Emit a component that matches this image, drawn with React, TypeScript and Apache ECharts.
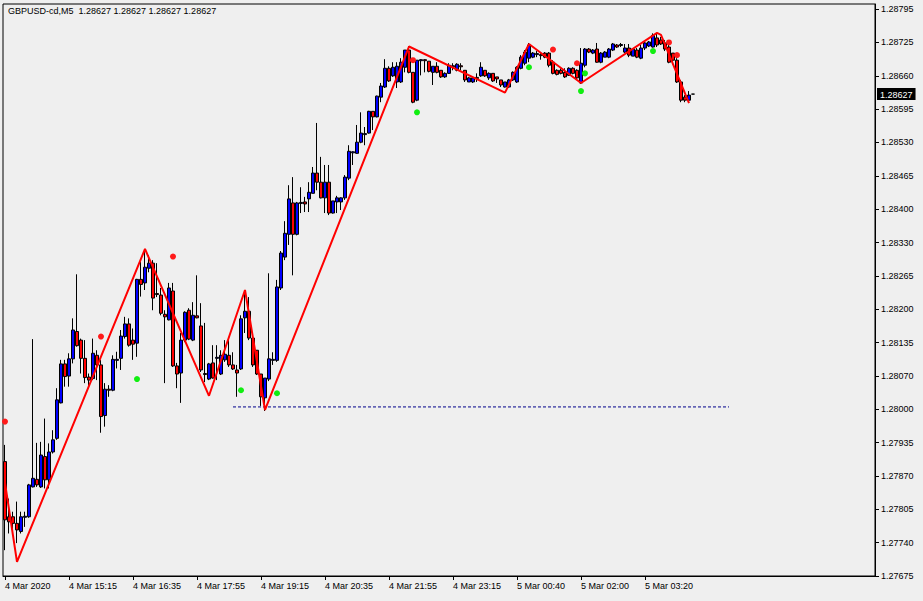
import React, { useEffect, useRef } from "react";
import * as echarts from "echarts";

const SYMBOL = "GBPUSD-cd";
const PERIOD = "M5";

// [open, close, low, high]
const CANDLES: number[][] = [
  [1.27901, 1.27786, 1.27726, 1.27934],
  [1.27792, 1.27782, 1.27759, 1.27828],
  [1.27792, 1.27779, 1.27759, 1.27802],
  [1.27779, 1.27766, 1.27740, 1.27822],
  [1.27763, 1.27792, 1.27759, 1.27802],
  [1.27791, 1.27793, 1.27772, 1.27802],
  [1.27792, 1.27855, 1.27790, 1.27857],
  [1.27851, 1.27868, 1.27850, 1.28143],
  [1.27866, 1.27855, 1.27851, 1.27938],
  [1.27851, 1.27914, 1.27849, 1.27940],
  [1.27911, 1.27865, 1.27848, 1.27986],
  [1.27865, 1.27920, 1.27848, 1.27937],
  [1.27920, 1.27944, 1.27917, 1.27963],
  [1.27947, 1.28023, 1.27944, 1.28046],
  [1.28017, 1.28094, 1.28016, 1.28102],
  [1.28094, 1.28069, 1.28049, 1.28102],
  [1.28070, 1.28104, 1.28049, 1.28115],
  [1.28104, 1.28161, 1.28095, 1.28184],
  [1.28158, 1.28130, 1.28128, 1.28271],
  [1.28141, 1.28105, 1.28075, 1.28144],
  [1.28105, 1.28067, 1.28056, 1.28141],
  [1.28068, 1.28062, 1.28046, 1.28075],
  [1.28065, 1.28115, 1.28062, 1.28144],
  [1.28111, 1.28092, 1.28062, 1.28121],
  [1.28092, 1.27990, 1.27958, 1.28102],
  [1.27992, 1.28044, 1.27970, 1.28056],
  [1.28044, 1.28042, 1.28029, 1.28052],
  [1.28042, 1.28103, 1.28040, 1.28111],
  [1.28101, 1.28103, 1.28085, 1.28118],
  [1.28105, 1.28149, 1.28082, 1.28161],
  [1.28148, 1.28173, 1.28144, 1.28187],
  [1.28173, 1.28131, 1.28128, 1.28184],
  [1.28141, 1.28133, 1.28102, 1.28164],
  [1.28135, 1.28261, 1.28108, 1.28262],
  [1.28261, 1.28251, 1.28227, 1.28296],
  [1.28254, 1.28285, 1.28240, 1.28319],
  [1.28283, 1.28293, 1.28275, 1.28309],
  [1.28293, 1.28224, 1.28200, 1.28299],
  [1.28233, 1.28231, 1.28226, 1.28293],
  [1.28230, 1.28194, 1.28190, 1.28244],
  [1.28192, 1.28187, 1.28056, 1.28200],
  [1.28181, 1.28244, 1.28180, 1.28254],
  [1.28238, 1.28090, 1.28088, 1.28254],
  [1.28090, 1.28074, 1.28046, 1.28096],
  [1.28076, 1.28141, 1.28017, 1.28155],
  [1.28141, 1.28196, 1.28137, 1.28198],
  [1.28200, 1.28143, 1.28141, 1.28204],
  [1.28141, 1.28190, 1.28139, 1.28216],
  [1.28189, 1.28185, 1.28184, 1.28269],
  [1.28169, 1.28082, 1.28078, 1.28214],
  [1.28075, 1.28073, 1.28058, 1.28175],
  [1.28064, 1.28094, 1.28062, 1.28096],
  [1.28096, 1.28066, 1.28065, 1.28131],
  [1.28105, 1.28107, 1.28062, 1.28131],
  [1.28074, 1.28111, 1.28072, 1.28121],
  [1.28102, 1.28113, 1.28098, 1.28141],
  [1.28111, 1.28092, 1.28088, 1.28145],
  [1.28092, 1.28084, 1.28082, 1.28117],
  [1.28082, 1.28076, 1.28029, 1.28092],
  [1.28084, 1.28183, 1.28082, 1.28190],
  [1.28185, 1.28198, 1.28155, 1.28234],
  [1.28198, 1.28145, 1.28141, 1.28226],
  [1.28145, 1.28092, 1.28088, 1.28147],
  [1.28121, 1.28074, 1.28072, 1.28121],
  [1.28074, 1.28029, 1.28011, 1.28074],
  [1.28027, 1.28066, 1.28001, 1.28066],
  [1.28064, 1.28104, 1.28060, 1.28273],
  [1.28101, 1.28103, 1.28092, 1.28117],
  [1.28101, 1.28246, 1.28098, 1.28260],
  [1.28244, 1.28313, 1.28240, 1.28317],
  [1.28305, 1.28352, 1.28299, 1.28376],
  [1.28350, 1.28420, 1.28329, 1.28447],
  [1.28412, 1.28350, 1.28269, 1.28463],
  [1.28350, 1.28412, 1.28348, 1.28414],
  [1.28411, 1.28413, 1.28392, 1.28443],
  [1.28414, 1.28410, 1.28394, 1.28424],
  [1.28420, 1.28433, 1.28394, 1.28453],
  [1.28431, 1.28471, 1.28431, 1.28483],
  [1.28471, 1.28453, 1.28437, 1.28570],
  [1.28453, 1.28422, 1.28421, 1.28503],
  [1.28422, 1.28453, 1.28392, 1.28487],
  [1.28453, 1.28392, 1.28388, 1.28487],
  [1.28392, 1.28416, 1.28391, 1.28416],
  [1.28414, 1.28422, 1.28392, 1.28426],
  [1.28414, 1.28422, 1.28398, 1.28423],
  [1.28422, 1.28463, 1.28418, 1.28467],
  [1.28461, 1.28514, 1.28457, 1.28526],
  [1.28511, 1.28513, 1.28487, 1.28514],
  [1.28510, 1.28532, 1.28509, 1.28566],
  [1.28532, 1.28550, 1.28530, 1.28591],
  [1.28547, 1.28549, 1.28526, 1.28562],
  [1.28550, 1.28593, 1.28549, 1.28594],
  [1.28593, 1.28582, 1.28556, 1.28593],
  [1.28582, 1.28623, 1.28581, 1.28624],
  [1.28621, 1.28643, 1.28611, 1.28649],
  [1.28641, 1.28678, 1.28639, 1.28696],
  [1.28678, 1.28653, 1.28651, 1.28682],
  [1.28663, 1.28680, 1.28661, 1.28690],
  [1.28651, 1.28682, 1.28639, 1.28690],
  [1.28651, 1.28690, 1.28649, 1.28698],
  [1.28680, 1.28714, 1.28670, 1.28714],
  [1.28714, 1.28670, 1.28668, 1.28722],
  [1.28670, 1.28611, 1.28609, 1.28670],
  [1.28615, 1.28694, 1.28613, 1.28694],
  [1.28693, 1.28695, 1.28664, 1.28696],
  [1.28695, 1.28693, 1.28670, 1.28696],
  [1.28692, 1.28672, 1.28670, 1.28692],
  [1.28670, 1.28682, 1.28645, 1.28682],
  [1.28682, 1.28670, 1.28668, 1.28690],
  [1.28674, 1.28661, 1.28659, 1.28674],
  [1.28661, 1.28668, 1.28659, 1.28670],
  [1.28668, 1.28684, 1.28667, 1.28688],
  [1.28681, 1.28683, 1.28674, 1.28688],
  [1.28674, 1.28686, 1.28672, 1.28688],
  [1.28683, 1.28681, 1.28674, 1.28688],
  [1.28674, 1.28655, 1.28651, 1.28674],
  [1.28651, 1.28659, 1.28651, 1.28661],
  [1.28651, 1.28659, 1.28649, 1.28659],
  [1.28660, 1.28658, 1.28651, 1.28668],
  [1.28663, 1.28680, 1.28661, 1.28690],
  [1.28674, 1.28663, 1.28661, 1.28674],
  [1.28659, 1.28668, 1.28655, 1.28670],
  [1.28668, 1.28653, 1.28651, 1.28668],
  [1.28661, 1.28657, 1.28649, 1.28661],
  [1.28655, 1.28645, 1.28641, 1.28655],
  [1.28641, 1.28651, 1.28640, 1.28651],
  [1.28641, 1.28655, 1.28639, 1.28657],
  [1.28655, 1.28670, 1.28653, 1.28672],
  [1.28651, 1.28680, 1.28649, 1.28682],
  [1.28678, 1.28700, 1.28676, 1.28704],
  [1.28688, 1.28710, 1.28684, 1.28714],
  [1.28698, 1.28724, 1.28690, 1.28728],
  [1.28700, 1.28708, 1.28698, 1.28710],
  [1.28705, 1.28707, 1.28700, 1.28712],
  [1.28705, 1.28703, 1.28695, 1.28708],
  [1.28708, 1.28700, 1.28698, 1.28710],
  [1.28708, 1.28684, 1.28680, 1.28710],
  [1.28690, 1.28668, 1.28666, 1.28694],
  [1.28674, 1.28666, 1.28664, 1.28676],
  [1.28674, 1.28668, 1.28666, 1.28678],
  [1.28670, 1.28661, 1.28659, 1.28678],
  [1.28664, 1.28678, 1.28663, 1.28680],
  [1.28678, 1.28668, 1.28666, 1.28680],
  [1.28674, 1.28659, 1.28657, 1.28676],
  [1.28649, 1.28688, 1.28647, 1.28718],
  [1.28684, 1.28716, 1.28680, 1.28718],
  [1.28716, 1.28710, 1.28708, 1.28718],
  [1.28708, 1.28714, 1.28706, 1.28716],
  [1.28716, 1.28690, 1.28689, 1.28728],
  [1.28690, 1.28708, 1.28688, 1.28710],
  [1.28700, 1.28710, 1.28700, 1.28712],
  [1.28700, 1.28716, 1.28698, 1.28718],
  [1.28714, 1.28726, 1.28712, 1.28728],
  [1.28724, 1.28720, 1.28718, 1.28726],
  [1.28723, 1.28725, 1.28720, 1.28728],
  [1.28710, 1.28718, 1.28708, 1.28726],
  [1.28718, 1.28704, 1.28700, 1.28726],
  [1.28702, 1.28716, 1.28702, 1.28716],
  [1.28714, 1.28700, 1.28698, 1.28718],
  [1.28698, 1.28718, 1.28696, 1.28724],
  [1.28718, 1.28728, 1.28714, 1.28730],
  [1.28722, 1.28730, 1.28720, 1.28732],
  [1.28720, 1.28743, 1.28719, 1.28747],
  [1.28738, 1.28724, 1.28720, 1.28747],
  [1.28734, 1.28726, 1.28724, 1.28740],
  [1.28728, 1.28716, 1.28712, 1.28734],
  [1.28720, 1.28690, 1.28688, 1.28724],
  [1.28708, 1.28694, 1.28686, 1.28708],
  [1.28694, 1.28651, 1.28649, 1.28698],
  [1.28651, 1.28615, 1.28611, 1.28655],
  [1.28621, 1.28615, 1.28611, 1.28625],
  [1.28615, 1.28625, 1.28615, 1.28633],
  [1.28627, 1.28627, 1.28627, 1.28627],
];

// ZigZag vertices: [bar index, price]
const ZIGZAG: number[][] = [
  [0, 1.27859], [3, 1.27703], [35, 1.28321], [51, 1.28031], [60, 1.2824],
  [65, 1.28003], [101, 1.28721], [125, 1.2863], [131, 1.28726], [144, 1.28649],
  [163, 1.28748], [164, 1.28744], [171, 1.28609],
];

const RED_DOTS: number[][] = [
  [0, 1.2798], [24, 1.28148], [42, 1.28306], [102, 1.28694],
  [137, 1.28715], [143, 1.28688], [166, 1.28729], [168, 1.28704],
];

const GREEN_DOTS: number[][] = [
  [33, 1.28064], [59, 1.28042], [68, 1.28036], [103, 1.28591],
  [131, 1.2868], [144, 1.28633], [145, 1.28668], [162, 1.28712],
];

const LEVEL_LINE: number[][] = [
  [57, 1.28009], [181, 1.28009],
];

const TOTAL_SLOTS = 218;
const X_LABEL_EVERY = 16;
const X_LABELS = [
  "4 Mar 2020", "4 Mar 15:15", "4 Mar 16:35", "4 Mar 17:55", "4 Mar 19:15",
  "4 Mar 20:35", "4 Mar 21:55", "4 Mar 23:15", "5 Mar 00:40", "5 Mar 02:00",
  "5 Mar 03:20",
];

const Y_MIN = 1.27675;
const Y_MAX = 1.28805;
const Y_LABELS = [
  "1.27675", "1.27740", "1.27805", "1.27870", "1.27935", "1.28000",
  "1.28070", "1.28135", "1.28200", "1.28265", "1.28330", "1.28400",
  "1.28465", "1.28530", "1.28595", "1.28660", "1.28725", "1.28795",
];
const Y_STEP = (1.28795 - Y_MIN) / (Y_LABELS.length - 1);

const FONT = "'Liberation Sans', Arial, sans-serif";

export default function App() {
  const ref = useRef<HTMLDivElement>(null);

  useEffect(() => {
    if (!ref.current) return;
    const chart = echarts.init(ref.current, undefined, { renderer: "svg" });
    const last = CANDLES[CANDLES.length - 1];
    const fmt = (v: number) => v.toFixed(5);
    const title = `${SYMBOL},${PERIOD}\u00a0\u00a0${fmt(last[0])} ${fmt(last[3])} ${fmt(last[2])} ${fmt(last[1])}`;
    const cats = Array.from({ length: TOTAL_SLOTS }, (_, i) => String(i));
    const showIdx = (idx: number) =>
      idx % X_LABEL_EVERY === 0 && idx / X_LABEL_EVERY < X_LABELS.length;

    chart.setOption({
      animation: false,
      backgroundColor: "#efefef",
      title: {
        text: title,
        left: 8,
        top: 6,
        padding: 0,
        textStyle: { fontFamily: FONT, fontSize: 9, fontWeight: "normal", color: "#000" },
      },
      grid: {
        left: 3,
        right: 48,
        top: 4,
        bottom: 25,
        show: true,
        borderColor: "#000",
        borderWidth: 1,
        backgroundColor: "transparent",
      },
      xAxis: {
        type: "category",
        data: cats,
        boundaryGap: true,
        axisPointer: { show: false },
        axisLine: { show: true, lineStyle: { color: "#000", width: 1 } },
        axisTick: {
          show: true,
          alignWithLabel: true,
          length: 4,
          interval: (idx: number) => showIdx(idx),
          lineStyle: { color: "#000" },
        },
        axisLabel: {
          show: true,
          interval: (idx: number) => showIdx(idx),
          formatter: (_v: string, idx: number) =>
            showIdx(idx) ? X_LABELS[idx / X_LABEL_EVERY] : "",
          align: "left",
          margin: 5,
          fontFamily: FONT,
          fontSize: 9,
          color: "#000",
        },
        splitLine: { show: false },
      },
      yAxis: {
        type: "value",
        position: "right",
        min: Y_MIN,
        max: Y_MAX,
        interval: Y_STEP,
        scale: true,
        axisLine: { show: true, lineStyle: { color: "#000", width: 1 } },
        axisTick: { show: true, length: 4, inside: false, lineStyle: { color: "#000" } },
        axisLabel: {
          show: true,
          margin: 6,
          fontFamily: FONT,
          fontSize: 9,
          color: "#000",
          showMaxLabel: false,
          formatter: (v: number) => {
            const k = Math.round((v - Y_MIN) / Y_STEP);
            if (Math.abs(v - (Y_MIN + k * Y_STEP)) > Y_STEP * 0.1) return "";
            return Y_LABELS[k] ?? "";
          },
        },
        axisPointer: {
          show: true,
          type: "line",
          value: last[1],
          status: "show",
          triggerTooltip: false,
          lineStyle: { opacity: 0 },
          label: {
            show: true,
            formatter: () => fmt(last[1]),
            backgroundColor: "#000",
            color: "#fff",
            padding: [2, 3, 1, 3],
            margin: 2,
            fontFamily: FONT,
            fontSize: 9,
            borderRadius: 0,
            shadowBlur: 0,
          },
          handle: { show: false },
        },
        splitLine: { show: false },
      },
      series: [
        {
          type: "candlestick",
          data: CANDLES,
          barWidth: 3,
          itemStyle: {
            color: "#0000ff",
            color0: "#ff0000",
            borderColor: "#000000",
            borderColor0: "#000000",
            borderWidth: 1,
          },
          z: 3,
        },
        {
          type: "line",
          data: LEVEL_LINE,
          symbol: "none",
          lineStyle: { color: "#00008b", width: 1, type: [3, 2] },
          z: 2,
        },
        {
          type: "line",
          data: ZIGZAG,
          symbol: "none",
          lineStyle: { color: "#ff0000", width: 2 },
          z: 4,
        },
        {
          type: "scatter",
          data: RED_DOTS,
          symbolSize: 6,
          itemStyle: { color: "#ff1a1a", opacity: 1 },
          z: 5,
        },
        {
          type: "scatter",
          data: GREEN_DOTS,
          symbolSize: 6,
          itemStyle: { color: "#11ee11", opacity: 1 },
          z: 5,
        },
      ],
    });
    return () => chart.dispose();
  }, []);

  return (
    <div
      ref={ref}
      style={{ position: "fixed", left: 0, top: 0, width: 923, height: 601 }}
    />
  );
}
